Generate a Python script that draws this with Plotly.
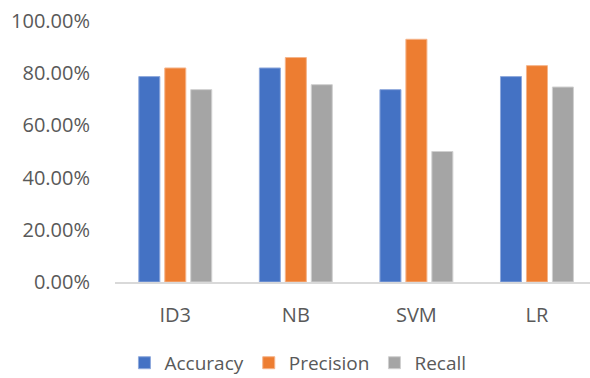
import plotly.graph_objects as go

models = ["ID3", "NB", "SVM", "LR"]
accuracy = [0.787, 0.820, 0.737, 0.787]
precision = [0.820, 0.860, 0.930, 0.829]
recall = [0.737, 0.756, 0.500, 0.747]

series = [
    ("Accuracy", accuracy, "#4472C4", "#8FA9DC"),
    ("Precision", precision, "#ED7D31", "#F5B48A"),
    ("Recall", recall, "#A5A5A5", "#D0D0D0"),
]

fig = go.Figure()
for name, vals, color, edge in series:
    fig.add_trace(go.Bar(
        x=models, y=vals, name=name,
        marker=dict(color=color, line=dict(color=edge, width=1)),
    ))

font = dict(family="Open Sans", size=20, color="#595959")
legend_font = dict(family="Open Sans", size=19, color="#595959")

fig.update_layout(
    width=590, height=378,
    margin=dict(l=115, r=0, t=21, b=96),
    paper_bgcolor="white", plot_bgcolor="white",
    barmode="group", bargap=0.354, bargroupgap=0.19,
    font=font,
    showlegend=True,
    legend=dict(orientation="h", x=0.505, xanchor="center", xref="container",
                y=0.04, yanchor="middle", yref="container",
                font=legend_font, itemwidth=30, tracegroupgap=0),
)
fig.update_xaxes(
    range=[-0.5, 3.44], showline=True, linecolor="#D9D9D9", linewidth=1.5,
    showgrid=False, ticks="outside", ticklen=14, tickcolor="rgba(0,0,0,0)",
    tickfont=font,
)
fig.update_yaxes(
    range=[0, 1.0], tickvals=[0, 0.2, 0.4, 0.6, 0.8, 1.0], tickformat=".2%",
    showgrid=False, showline=False, zeroline=False,
    ticks="outside", ticklen=20, tickcolor="rgba(0,0,0,0)",
    tickfont=font,
)

fig.write_html("out.html")
